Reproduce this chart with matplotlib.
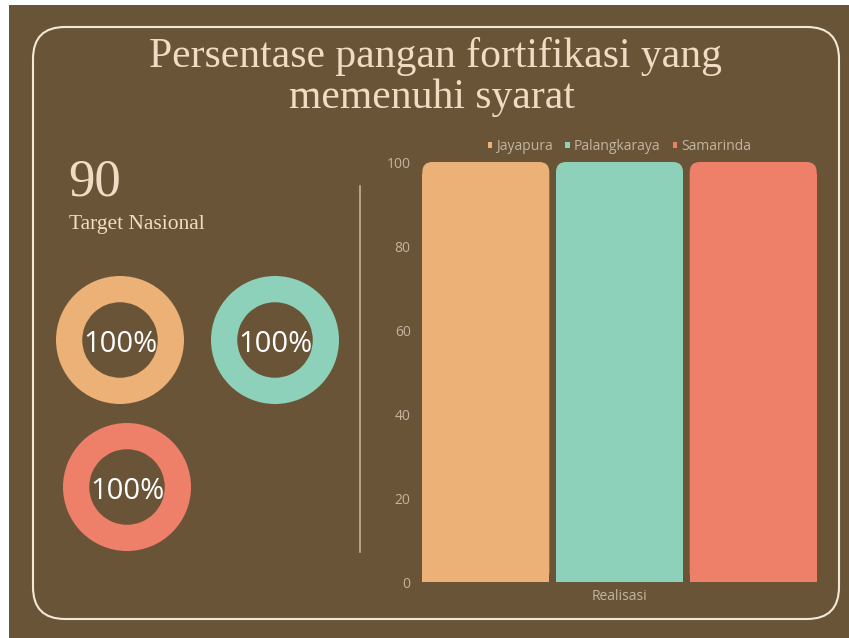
import matplotlib.pyplot as plt
from matplotlib.patches import FancyBboxPatch, Rectangle

# data
kota = ["Jayapura", "Palangkaraya", "Samarinda"]
realisasi = [100, 100, 100]
persen = [100, 100, 100]
target = 90
warna = ["#ECB176", "#8ED1BA", "#EE806A"]

bg = "#6A5438"
krem = "#EFDCC3"
abu = "#C2B49E"

fig = plt.figure(figsize=(8.49, 6.38), dpi=100)
fig.patch.set_facecolor("white")

# latar belakang dalam koordinat piksel
bgax = fig.add_axes([0, 0, 1, 1], zorder=0)
bgax.set_xlim(0, 849)
bgax.set_ylim(638, 0)
bgax.axis("off")
bgax.add_patch(Rectangle((9, 5), 840, 633, facecolor=bg, edgecolor="none"))
bgax.add_patch(FancyBboxPatch((33, 27), 806, 592,
                              boxstyle="round,pad=0,rounding_size=32",
                              facecolor="none", edgecolor="#F3E8D6", linewidth=1.5))
bgax.plot([360, 360], [186, 552], color=abu, linewidth=1.2)

bgax.text(435, 56, "Persentase pangan fortifikasi yang", ha="center", va="center",
          fontsize=30, color=krem, family="Liberation Serif")
bgax.text(432, 98, "memenuhi syarat", ha="center", va="center",
          fontsize=30, color=krem, family="Liberation Serif")
bgax.text(68, 182, str(target), ha="left", va="center",
          fontsize=38, color=krem, family="Liberation Serif")
bgax.text(69, 224, "Target Nasional", ha="left", va="center",
          fontsize=15.5, color=krem, family="Liberation Serif")

# donat
pusat = [(120, 340), (275, 340), (127, 487)]
for (cx, cy), p, c in zip(pusat, persen, warna):
    dax = fig.add_axes([(cx - 64) / 849, (638 - cy - 64) / 638, 128 / 849, 128 / 638], zorder=2)
    dax.pie([p, 100 - p], colors=[c, bg], radius=1, startangle=90, counterclock=False,
            wedgeprops=dict(width=0.41, edgecolor="none"))
    dax.set_xlim(-1, 1)
    dax.set_ylim(-1, 1)
    dax.text(0, -0.07, f"{p}%", ha="center", va="center", fontsize=21,
             color="white", family="Open Sans")

# grafik batang
ax = fig.add_axes([419 / 849, (638 - 582) / 638, 401 / 849, 420 / 638], zorder=2)
ax.set_facecolor("none")
x = list(range(len(kota)))
bars = ax.bar(x, realisasi, width=0.95, color=warna, label=kota)
ax.set_xlim(-0.5, 2.5)
ax.set_ylim(0, 100)

# sudut atas membulat
px_x = 401 / 3.0
px_y = 420 / 100.0
r = 10 / px_x
for b in bars:
    b.set_visible(False)
    bx, bw, bh = b.get_x(), b.get_width(), b.get_height()
    ax.add_patch(FancyBboxPatch((bx, 0), bw, bh,
                                boxstyle=f"round,pad=0,rounding_size={r}",
                                mutation_aspect=px_x / px_y,
                                facecolor=b.get_facecolor(), edgecolor="none"))
    ax.add_patch(Rectangle((bx, 0), bw, bh - 12 / px_y, facecolor=b.get_facecolor(),
                           edgecolor="none", antialiased=False))

ax.set_yticks([0, 20, 40, 60, 80, 100])
ax.set_xticks([1])
ax.set_xticklabels(["Realisasi"])
ax.tick_params(length=0, colors=abu, labelsize=10, pad=6)
for lab in ax.get_xticklabels() + ax.get_yticklabels():
    lab.set_family("Open Sans")
ax.tick_params(axis="x", pad=5)
for s in ax.spines.values():
    s.set_visible(False)

handles = [Rectangle((0, 0), 1, 1, facecolor=c, edgecolor="none") for c in warna]
leg = ax.legend(handles, kota, loc="center", bbox_to_anchor=(0.5, 1.036), ncol=3,
                frameon=False, handlelength=0.3, handleheight=0.3, handletextpad=0.3,
                columnspacing=0.9, borderpad=0, prop={"family": "Open Sans", "size": 10})
for t in leg.get_texts():
    t.set_color(abu)

fig.savefig("out.png", dpi=100, facecolor=fig.get_facecolor())
